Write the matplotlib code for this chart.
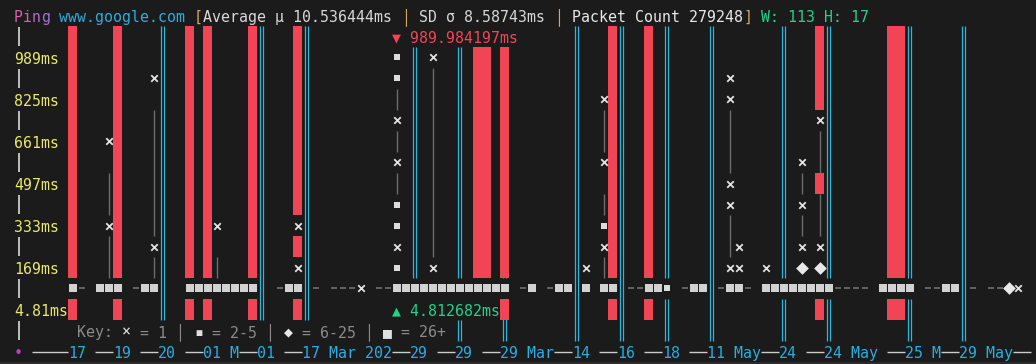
import matplotlib.pyplot as plt

# header numbers
host = "www.google.com"
mean_ms = 10.536444
sd_ms = 8.58743
packet_count = 279248
n_cols, n_rows = 113, 17

y_min = 4.812682
y_max = 989.984197

y_tick_ms = [989, 825, 661, 497, 333, 169, 4.81]
y_tick_labels = ["989ms", "825ms", "661ms", "497ms", "333ms", "169ms", "4.81ms"]

x_tick_cols = [6, 11, 16, 21, 27, 32, 44, 49, 54, 62, 67, 72, 77, 85, 90, 99, 105]
x_tick_labels = ["17", "19", "20", "01 M", "01", "17 Mar 202", "29", "29", "29 Mar",
                 "14", "16", "18", "11 May", "24", "24 May", "25 M", "29 May"]

# columns with timeouts (red) and with gaps in the capture (double cyan line)
timeout_cols = [6, 11, 19, 21, 26, 31, 51, 52, 54, 66, 70, 89, 97, 98]
gap_cols = [16, 27, 32, 44, 49, 54, 62, 67, 72, 77, 85, 90, 99, 105]

# x = 1 packet
single_cols = [10, 10, 15, 15, 22, 31, 31, 38, 42, 42, 42, 46, 46, 63, 65, 65, 65,
               79, 79, 79, 79, 79, 80, 80, 83, 87, 87, 87, 89, 89, 111]
single_ms = [662, 333, 908, 251, 333, 333, 169, 87, 744, 580, 251, 990, 169, 169, 826, 580, 251,
             908, 826, 497, 415, 169, 251, 169, 169, 580, 415, 251, 744, 251, 87]
# small square = 2-5 packets
few_cols = [42, 42, 42, 42, 42, 65, 72]
few_ms = [990, 908, 415, 333, 169, 333, 87]
# diamond = 6-25 packets
mid_cols = [87, 89, 110]
mid_ms = [169, 169, 87]
# big square = 26+ packets, all in the lowest band
many_cols = [6, 9, 10, 11, 14, 15, 19, 20, 21, 22, 23, 24, 25, 26, 30, 31,
             42, 43, 44, 45, 46, 47, 48, 49, 50, 51, 52, 53, 54, 57, 60, 61, 63, 65, 66,
             70, 71, 75, 76, 79, 80, 83, 84, 85, 86, 87, 88, 89, 90, 96, 97, 98, 99, 103, 104]
many_ms = 87
# buckets with no packets (dim dash)
idle_cols = [7, 13, 29, 33, 35, 36, 37, 40, 41, 56, 59, 68, 69, 74, 78, 81,
             91, 92, 93, 94, 101, 102, 106, 108, 109]
idle_ms = 87

# grey range lines between samples in a bucket
whisker_cols = [10, 10, 15, 15, 22, 42, 42, 42, 46, 65, 65, 65, 79, 79, 87, 87, 89, 89]
whisker_hi = [497, 251, 744, 169, 169, 826, 662, 497, 908, 744, 415, 169, 744, 333, 497, 333, 662, 415]
whisker_lo = [415, 169, 333, 169, 169, 826, 662, 497, 251, 662, 415, 169, 580, 251, 497, 333, 580, 333]

bg = '#1b1b1b'
red = '#f14556'
cyan = '#29b8db'
yellow = '#e8e86c'
green = '#23d18b'
light = '#cccccc'
key_grey = '#8b8b8b'
mono = ['DejaVu Sans Mono', 'DejaVu Sans']
fs = 10.76

step = (y_max - y_min) / 12


def row_y(r):
    return y_min + (14 - r) * step


def y_row(v):
    return int(round(14 - (v - y_min) / step))


fig = plt.figure(figsize=(10.36, 3.64), dpi=100, facecolor=bg)
ax = fig.add_axes([0, 0, 1, 1])
ax.set_facecolor(bg)
ax.set_xlim(-18.5 / 9, (1036 - 18.5) / 9)
ax.set_ylim(row_y((364 - 15.5) / 21), row_y(-15.5 / 21))
ax.axis('off')


def put(col, row, s, color, **kw):
    ax.text(col - 0.5, row_y(row + 0.3), s, color=color, family=mono, fontsize=fs,
            ha='left', va='baseline', **kw)


def put_parts(col, row, parts):
    for s, color in parts:
        if s.strip():
            put(col, row, s, color)
        col += len(s)


# title line
put_parts(0, 0, [("P", '#d962a8'), ("i", '#c864b8'), ("n", '#b868c6'), ("g", '#a66ed2'),
                 (" " + host + " ", '#35a8dc'), ("[", '#d7a657'),
                 (f"Average μ {mean_ms}ms ", '#d8d8d8'), ("│", '#d7a657'),
                 (f" SD σ {sd_ms}ms ", '#d8d8d8'), ("│", '#d7a657'),
                 (f" Packet Count {packet_count}", '#e8e8e8'), ("]", '#d7a657'),
                 (f" W: {n_cols} H: {n_rows}", green)])

# occupied cells hide the red / cyan column fills
annot_col = 42
key_col = 7
max_text = f"▼ {y_max:.6f}ms"
min_text = f"▲ {y_min:.6f}ms"
key_parts = [("Key: ", key_grey), ("×", '#e0e0e0'), (" = 1 │ ", key_grey), ("▪", '#e0e0e0'),
             (" = 2-5 │ ", key_grey), ("◆", '#e8e8e8'), (" = 6-25 │ ", key_grey),
             ("■", '#e0e0e0'), (" = 26+", key_grey)]
key_len = sum(len(s) for s, _ in key_parts)

occupied = set()
for cols, vals in [(single_cols, single_ms), (few_cols, few_ms), (mid_cols, mid_ms)]:
    for cc, v in zip(cols, vals):
        occupied.add((cc, y_row(v)))
for cc in many_cols + idle_cols:
    occupied.add((cc, y_row(many_ms)))
for cc, hi, lo in zip(whisker_cols, whisker_hi, whisker_lo):
    for r in range(y_row(hi), y_row(lo) + 1):
        occupied.add((cc, r))
for i in range(len(max_text)):
    occupied.add((annot_col + i, 1))
for i in range(len(min_text)):
    occupied.add((annot_col + i, 14))
for i in range(key_len):
    occupied.add((key_col + i, 15))


def free_runs(col, rows):
    runs = []
    for r in rows:
        if (col, r) in occupied:
            continue
        if runs and runs[-1][1] == r - 1:
            runs[-1][1] = r
        else:
            runs.append([r, r])
    return runs


for cc in gap_cols:
    for r0, r1 in free_runs(cc, range(1, 16)):
        ax.vlines([cc - 0.17, cc + 0.17], row_y(r1 + 0.5), row_y(r0 - 0.5),
                  color=cyan, lw=0.9, zorder=2)

for cc in timeout_cols:
    for r0, r1 in free_runs(cc, range(1, 15)):
        lo, hi = row_y(r1 + 0.5), row_y(r0 - 0.5)
        ax.bar(cc, hi - lo, bottom=lo, width=1.0, color=red, linewidth=0, zorder=3)

for cc, hi, lo in zip(whisker_cols, whisker_hi, whisker_lo):
    ax.vlines(cc, row_y(y_row(lo) + 0.5), row_y(y_row(hi) - 0.5), color='#6c6c6c', lw=1.0, zorder=4)

# markers
sq_h = 8 / 21 * step
ax.bar(many_cols, sq_h, bottom=many_ms - sq_h / 2, width=8 / 9, color='#d2d2d2',
       linewidth=0, zorder=5)
ax.scatter(idle_cols, [idle_ms] * len(idle_cols), marker='_', s=14, lw=1.1, color='#777777', zorder=5)
ax.scatter(single_cols, single_ms, marker='x', s=22, lw=1.3, color='#e2e2e2', zorder=5)
ax.scatter(few_cols, few_ms, marker='s', s=13, lw=0, color='#dcdcdc', zorder=5)
ax.scatter(mid_cols, mid_ms, marker='D', s=42, lw=0, color='#e8e8e8', zorder=5)

# y axis
for v, lab in zip(y_tick_ms, y_tick_labels):
    put(0, y_row(v), lab, yellow)
for r in range(1, 16, 2):
    ax.vlines(0, row_y(r + 0.47), row_y(r - 0.47), color=light, lw=1.3)

put(annot_col, 1, max_text, red)
put(annot_col, 14, min_text, green)

# key
put_parts(key_col, 15, key_parts)

# x axis
put(0, 16, "•", '#bc3fbc')
for i, (cc, lab) in enumerate(zip(x_tick_cols, x_tick_labels)):
    start = 1.5 if i == 0 else cc - 2.5
    ax.hlines(row_y(16), start, cc - 0.5, color=light, lw=1.0)
    put(cc, 16, lab, '#2aaede')
ax.hlines(row_y(16), x_tick_cols[-1] + len(x_tick_labels[-1]) - 0.5, n_cols - 0.5, color=light, lw=1.0)

ax.axhline(row_y(347 / 21), color='#2b2b2b', lw=1.5)

fig.savefig("out.png", dpi=100, facecolor=bg)
